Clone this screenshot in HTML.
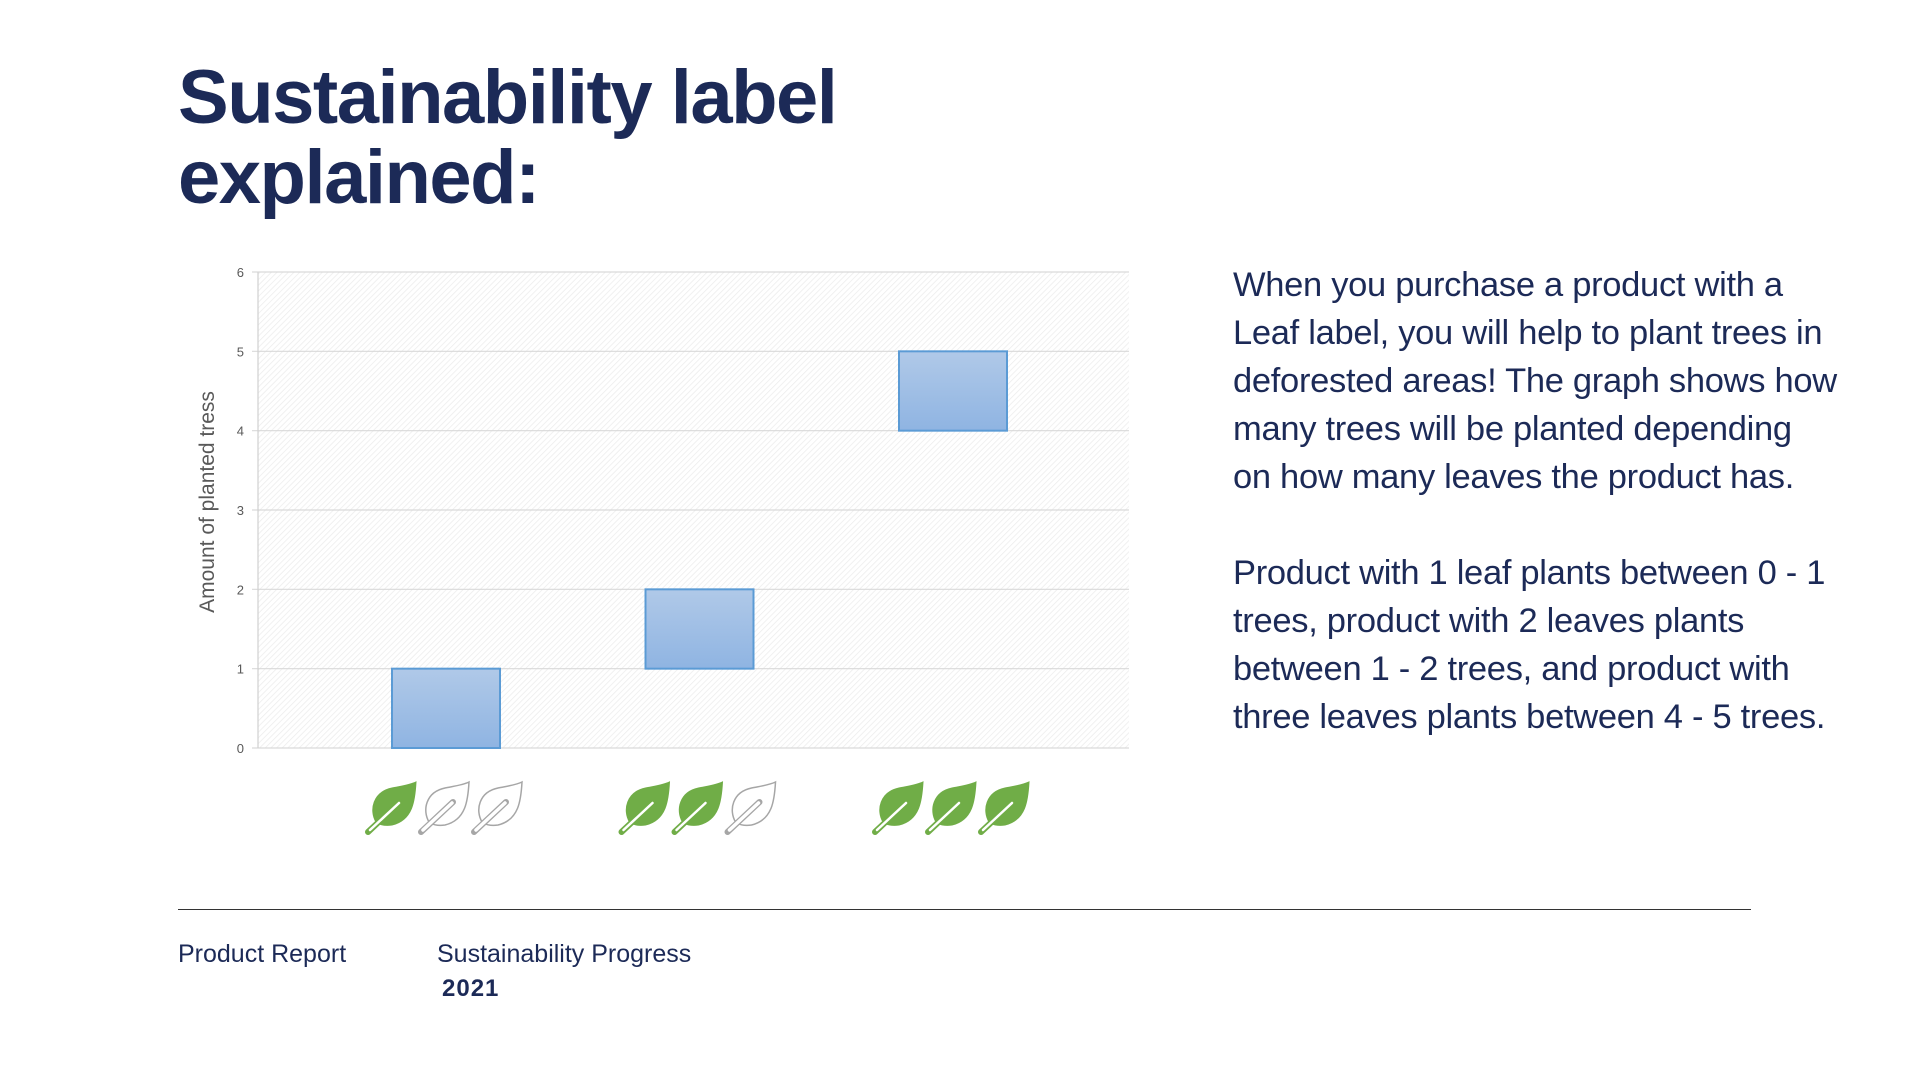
<!DOCTYPE html>
<html><head><meta charset="utf-8"><style>
body{margin:0;width:1920px;height:1080px;background:#fff;overflow:hidden;font-family:"Liberation Sans",sans-serif;color:#1c2a57;position:relative}
.t{position:absolute;margin:0}
h1{position:absolute;left:178px;top:58px;margin:0;font-size:76px;line-height:80px;font-weight:bold;letter-spacing:-1.5px;color:#1c2a57}
.p{position:absolute;left:1233px;font-size:34.5px;line-height:48px;width:700px;letter-spacing:-0.3px}
</style></head><body>
<h1>Sustainability label<br>explained:</h1>
<svg id="chart" width="1920" height="1080" style="position:absolute;left:0;top:0">
<defs>
<pattern id="hatch" width="4" height="4" patternUnits="userSpaceOnUse" patternTransform="rotate(45)"><rect width="4" height="4" fill="#fff"/><line x1="0" y1="0" x2="0" y2="4" stroke="#ececec" stroke-width="1.5"/></pattern>
<linearGradient id="bg" x1="0" y1="0" x2="0" y2="1"><stop offset="0" stop-color="#b0c9e8"/><stop offset="1" stop-color="#8fb4e2"/></linearGradient>
</defs>
</svg>
<div class="p" style="top:261px">When you purchase a product with a<br>Leaf label, you will help to plant trees in<br>deforested areas! The graph shows how<br>many trees will be planted depending<br>on how many leaves the product has.</div>
<div class="p" style="top:549px">Product with 1 leaf plants between 0 - 1<br>trees, product with 2 leaves plants<br>between 1 - 2 trees, and product with<br>three leaves plants between 4 - 5 trees.</div>
<div style="position:absolute;left:178px;top:909px;width:1573px;height:1px;background:#333"></div>
<div class="t" style="left:178px;top:940px;font-size:25px">Product Report</div>
<div class="t" style="left:437px;top:940px;font-size:25px">Sustainability Progress</div>
<div class="t" style="left:442px;top:975px;font-size:24px;font-weight:bold;letter-spacing:1px">2021</div>
<script>
const categories=[1,2,3];
const lowValues=[0,1,4];
const highValues=[1,2,5];
const yTicks=[0,1,2,3,4,5,6];
const NS='http://www.w3.org/2000/svg';
const svg=document.getElementById('chart');
const X0=258,X1=1129,Y0=748,Y6=272;
const y=v=>Y0-(Y0-Y6)*v/6;
const xc=i=>446+i*253.5;
function mk(t,a){const e=document.createElementNS(NS,t);for(const k in a)e.setAttribute(k,a[k]);svg.appendChild(e);return e;}
const bgr=mk('rect',{x:X0,y:Y6,width:X1-X0,height:Y0-Y6,fill:'url(#hatch)'});


yTicks.forEach(v=>{
 const l=mk('line',{x1:X0-6,x2:X1,y1:y(v),y2:y(v),stroke:'#d9d9d9','stroke-width':1.2});
 
 
 const t=mk('text',{x:244,y:y(v)+5,'text-anchor':'end','font-size':13,fill:'#595959','font-family':'Liberation Sans, sans-serif'});
 t.textContent=v;
 
 
});
const ax=mk('line',{x1:X0,x2:X0,y1:Y6,y2:Y0,stroke:'#d0d0d0','stroke-width':1.2});


const yt=mk('text',{x:0,y:0,transform:'translate(214,502) rotate(-90)','text-anchor':'middle','font-size':21,fill:'#595959','font-family':'Liberation Sans, sans-serif'});
yt.textContent='Amount  of planted  tress';


const leafPath='M10,42 C3,30 7,12 26,8 C36,6 44,5 50,2 C49,20 47,40 26,45 C20,46 15,45 11,43 Z';
categories.forEach((c,i)=>{
 const b=mk('rect',{x:xc(i)-54,y:y(highValues[i]),width:108,height:y(lowValues[i])-y(highValues[i]),fill:'url(#bg)',stroke:'#5b9bd5','stroke-width':2});
 
 
 for(let k=0;k<3;k++){
  const filled=k<c;
  const g=mk('g',{transform:`translate(${xc(i)-80+k*53},780)`});
  
  
  const p=document.createElementNS(NS,'path');
  p.setAttribute('d',leafPath);
  p.setAttribute('fill',filled?'#70ad47':'#fff');
  p.setAttribute('stroke',filled?'#70ad47':'#a6a6a6');
  p.setAttribute('stroke-width',filled?1:1.5);
  g.appendChild(p);
  const s=document.createElementNS(NS,'path');
  s.setAttribute('d','M2,52 L34,22');
  s.setAttribute('stroke',filled?'#70ad47':'#a6a6a6');
  s.setAttribute('stroke-width',6);
  s.setAttribute('stroke-linecap','round');
  g.appendChild(s);
  const s2=document.createElementNS(NS,'path');
  s2.setAttribute('d','M4,50 L33,23');
  s2.setAttribute('stroke','#fff');
  s2.setAttribute('stroke-width',filled?2.5:3.5);
  s2.setAttribute('stroke-linecap','round');
  g.appendChild(s2);
 }
});
</script>
</body></html>
